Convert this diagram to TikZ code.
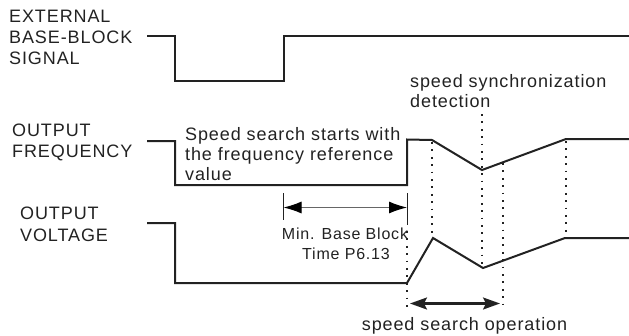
\documentclass[tikz,border=0pt]{standalone}
\usepackage{fontspec}
\setmainfont{Liberation Sans}
\newfontfamily\labfont[LetterSpace=5]{Liberation Sans}
\usetikzlibrary{arrows.meta}
\definecolor{ink}{HTML}{222222}
\begin{document}
\begin{tikzpicture}[x=1pt,y=-1pt,
  sig/.style={line width=2pt, draw=ink, line join=miter},
  dots/.style={line width=1.8pt, draw=ink, dash pattern=on 1.8pt off 5.6pt},
  tick/.style={line width=1pt, draw=ink},
  lbl/.style={anchor=base west, inner sep=0pt, text=ink, font=\labfont\fontsize{18}{20}\selectfont},
  lblc/.style={lbl, anchor=base},
  lbls/.style={anchor=base, inner sep=0pt, text=ink, font=\labfont\fontsize{16}{18}\selectfont},
  minarrow/.style={line width=1pt, draw=black!60, {Latex[length=18pt,width=12pt,black]}-{Latex[length=18pt,width=12pt,black]}},
  oparrow/.style={line width=2.2pt, draw=ink, {Stealth[length=17pt,width=12pt,inset=3pt]}-{Stealth[length=17pt,width=12pt,inset=3pt]}}
]
\useasboundingbox (0,0) rectangle (629,335);
% labels
\node[lbl] (ext1) at (9,22) {EXTERNAL};
\node[lbl] (ext2) at (9,43) {BASE-BLOCK};
\node[lbl] (ext3) at (9,64) {SIGNAL};
\node[lbl] (fq1) at (12,136) {OUTPUT};
\node[lbl] (fq2) at (12,157) {FREQUENCY};
\node[lbl] (vo1) at (20,219.5) {OUTPUT};
\node[lbl] (vo2) at (20,241.5) {VOLTAGE};
\node[lbl] (ss1) at (185,140.5) {Speed search starts with};
\node[lbl] (ss2) at (185,160.5) {the frequency reference};
\node[lbl] (ss3) at (185,180.5) {value};
\node[lbl] (sy1) at (410,87.5) {speed synchronization};
\node[lbl] (sy2) at (410,107.5) {detection};
\node[lblc] (op) at (464.5,330) {speed search operation};
\node[lbls] (mb1) at (345,239.5) {Min. Base Block};
\node[lbls] (mb2) at (346,259.5) {Time P6.13};
% waveforms
\draw[sig] (147,36) -- (175,36) -- (175,81) -- (284,81) -- (284,36) -- (629,36);
\draw[sig] (147,141) -- (175,141) -- (175,185) -- (407,185) -- (407,139.5) -- (432,140) -- (482,170) -- (566,139) -- (629,139);
\draw[sig] (147,223) -- (175,223) -- (175,283) -- (407,283) -- (433,238) -- (483,268) -- (565,238) -- (629,238);
% dotted markers
\draw[dots] (432,142) -- (432,237);
\draw[dots] (482,114) -- (482,267);
\draw[dots] (503,163) -- (503,307);
\draw[dots] (566,141) -- (566,237);
\draw[dots] (407,231) -- (407,307);
% min base block
\coordinate (mbL) at (283.5,207.5);
\coordinate (mbR) at (407,207.5);
\draw[tick] (283.5,193) -- (283.5,220);
\draw[tick] (407,193) -- (407,225);
\draw[minarrow] (mbL) -- (mbR);
% speed search operation
\coordinate (opL) at (410,303.5);
\coordinate (opR) at (500,303.5);
\draw[oparrow] (opL) -- (opR);
\end{tikzpicture}
\end{document}
